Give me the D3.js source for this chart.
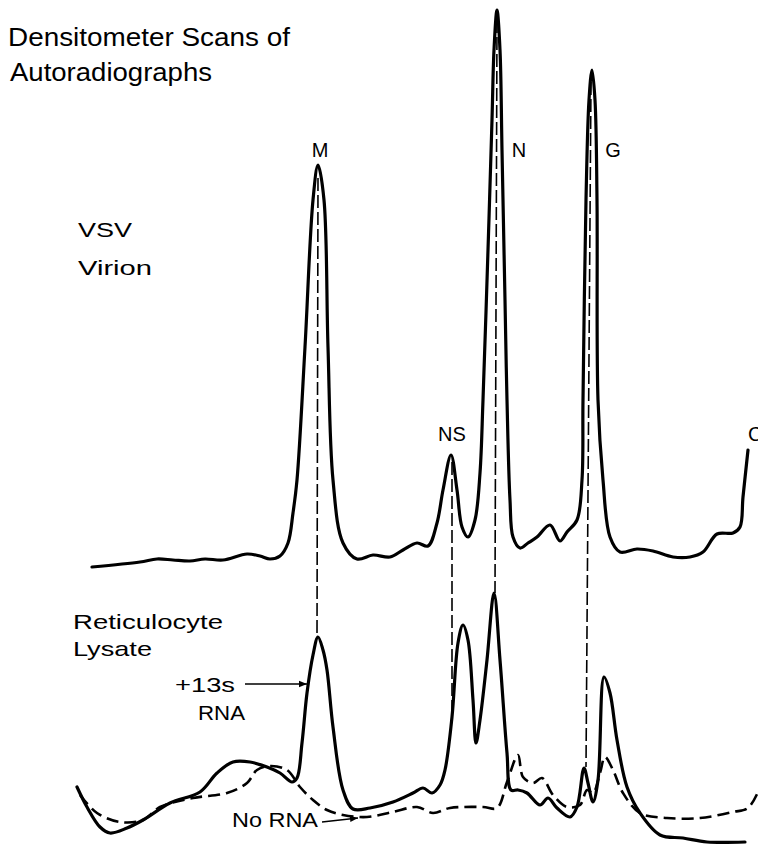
<!DOCTYPE html>
<html>
<head>
<meta charset="utf-8">
<script src="https://cdn.jsdelivr.net/npm/d3@7"></script>
<style>
  body { margin: 0; background: #fff; }
  svg text { font-family: "Liberation Sans", Arial, sans-serif; fill: #000; }
</style>
</head>
<body>
<div class="chart"></div>
<script>
// scan position (arbitrary units) vs. optical density (arbitrary units)
const virionScan = [
  [22,5],[70,10],[87,13],[103,12],[120,11],[135,13],[153,12],[177,18],[190,16],[200,13],[210,16],
  [218,29],[223,59],[227,92],[235,225],[243,372],[248,407],[254,372],[258,225],[263,92],
  [273,29],[287,13],[303,17],[320,15],[333,22],[347,29],[358,26],[367,49],[373,82],
  [381,117],[387,82],[392,45],[398,35],[405,52],[410,99],[413,172],[418,322],[422,452],
  [424,522],[427,562],[430,522],[432,422],[435,272],[437,172],[440,72],[443,35],[450,24],
  [458,29],[467,35],[480,47],[490,31],[497,40],[507,52],[512,92],[513,172],[516,372],
  [519,472],[522,502],[525,472],[527,372],[528,172],[533,92],[540,35],[550,20],[567,23],
  [583,21],[603,15],[620,15],[633,20],[647,38],[663,39],[670,45],[673,75],[678,122]
];

const lysateWithRNA = [
  [7,58],[17,38],[30,18],[40,12],[57,17],[73,25],[100,42],[130,53],[147,72],[163,83],
  [180,83],[197,78],[210,72],[222,63],[227,67],[232,102],[237,152],[243,190],[248,208],
  [253,195],[257,175],[263,118],[273,55],[283,36],[300,37],[323,43],[343,52],[353,57],
  [362,52],[370,60],[375,75],[382,128],[388,202],[393,220],[398,205],[403,145],[406,102],
  [410,125],[417,185],[424,252],[430,185],[437,92],[441,55],[448,55],[457,52],[470,40],
  [478,47],[487,37],[500,28],[507,38],[514,77],[518,62],[523,43],[528,65],[534,168],
  [540,152],[547,105],[557,58],[570,32],[590,10],[613,7],[637,3],[675,3]
];

const lysateNoRNA = [
  [10,50],[27,32],[50,23],[73,25],[90,38],[123,47],[157,52],[177,62],[187,75],[200,79],
  [217,75],[230,58],[243,45],[257,35],[273,30],[297,28],[323,33],[347,38],[363,32],
  [380,37],[413,38],[427,37],[437,63],[448,90],[453,68],[463,62],[472,67],[483,50],
  [497,38],[510,40],[517,55],[523,52],[530,72],[535,88],[543,75],[553,52],[570,32],
  [597,27],[630,27],[663,33],[678,37],[688,53]
];

// protein bands: position in virion scan / lysate scan, and the densities the guide joins
const bandNames = ["M", "NS", "N", "G"];
const bandPosVirion = [248, 382, 427, 521];
const bandPosLysate = [247, 382, 425, 516];
const bandVirionTop = [394, 110, 552, 490];
const bandLysateTop = [208, 128, 252, 78];

const width = 758, height = 845;

const svg = d3.select('.chart')
  .append('svg')
  .attr('width', width)
  .attr('height', height);

const xScale = d3.scaleLinear().domain([0, 688]).range([70, 758]);
const yUpper = d3.scaleLinear().domain([0, 564]).range([572, 8]);
const yLower = d3.scaleLinear().domain([0, 300]).range([845, 545]);

const upperLine = d3.line()
  .x(d => xScale(d[0]))
  .y(d => yUpper(d[1]))
  .curve(d3.curveCatmullRom.alpha(0.5));

const lowerLine = d3.line()
  .x(d => xScale(d[0]))
  .y(d => yLower(d[1]))
  .curve(d3.curveCatmullRom.alpha(0.5));

// guide lines linking the bands
svg.selectAll('.guide')
  .data(bandNames)
  .enter()
  .append('line')
  .attr('class', 'guide')
  .attr('x1', (d, i) => xScale(bandPosVirion[i]))
  .attr('x2', (d, i) => xScale(bandPosLysate[i]))
  .attr('y1', (d, i) => yUpper(bandVirionTop[i]))
  .attr('y2', (d, i) => yLower(bandLysateTop[i]))
  .attr('stroke', '#000')
  .attr('stroke-width', 1.6)
  .attr('stroke-dasharray', '13,4');

svg.append('path')
  .datum(virionScan)
  .attr('d', upperLine)
  .attr('fill', 'none')
  .attr('stroke', '#000')
  .attr('stroke-width', 3.2)
  .attr('stroke-linejoin', 'round')
  .attr('stroke-linecap', 'round');

svg.append('path')
  .datum(lysateNoRNA)
  .attr('d', lowerLine)
  .attr('fill', 'none')
  .attr('stroke', '#000')
  .attr('stroke-width', 2.6)
  .attr('stroke-dasharray', '12,6');

svg.append('path')
  .datum(lysateWithRNA)
  .attr('d', lowerLine)
  .attr('fill', 'none')
  .attr('stroke', '#000')
  .attr('stroke-width', 3.2)
  .attr('stroke-linejoin', 'round')
  .attr('stroke-linecap', 'round');

// band labels
const labelDx = [2, 0, 22, 22];
const labelY = [157, 441, 157, 157];
svg.selectAll('.band-label')
  .data(bandNames)
  .enter()
  .append('text')
  .attr('class', 'band-label')
  .attr('x', (d, i) => xScale(bandPosVirion[i]) + labelDx[i])
  .attr('y', (d, i) => labelY[i])
  .attr('text-anchor', 'middle')
  .attr('font-size', 20)
  .text(d => d);

svg.append('text')
  .attr('x', 748).attr('y', 441)
  .attr('font-size', 20)
  .text('C');

function label(txt, x, y, len, size) {
  svg.append('text')
    .attr('x', x).attr('y', y)
    .attr('font-size', size)
    .attr('textLength', len)
    .attr('lengthAdjust', 'spacingAndGlyphs')
    .text(txt);
}

label('Densitometer Scans of', 8, 46, 282, 25);
label('Autoradiographs', 10, 81, 202, 25);
label('VSV', 78, 237, 54, 21);
label('Virion', 78, 275, 74, 21);
label('Reticulocyte', 73, 629, 150, 21);
label('Lysate', 73, 656, 79, 21);
label('+13s', 175, 692, 60, 21);
label('RNA', 198, 720, 47, 21);
label('No RNA', 232, 827, 86, 21);

// arrows
const defs = svg.append('defs');
defs.append('marker')
  .attr('id', 'arrow')
  .attr('viewBox', '0 0 10 10')
  .attr('refX', 10).attr('refY', 5)
  .attr('markerWidth', 12).attr('markerHeight', 8)
  .attr('markerUnits', 'userSpaceOnUse')
  .attr('orient', 'auto')
  .append('path')
  .attr('d', 'M0,1 L10,5 L0,9 Z')
  .attr('fill', '#000');

svg.append('line')
  .attr('x1', 245).attr('y1', 684)
  .attr('x2', 307).attr('y2', 684)
  .attr('stroke', '#000').attr('stroke-width', 1.5)
  .attr('marker-end', 'url(#arrow)');

svg.append('line')
  .attr('x1', 322).attr('y1', 822)
  .attr('x2', 358).attr('y2', 818)
  .attr('stroke', '#000').attr('stroke-width', 1.5)
  .attr('marker-end', 'url(#arrow)');
</script>
</body>
</html>
